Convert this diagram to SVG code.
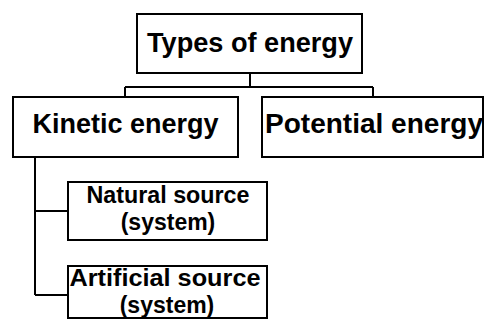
<svg xmlns="http://www.w3.org/2000/svg" width="485" height="320" viewBox="0 0 485 320">
<style>
.box{fill:#fff;stroke:#000;stroke-width:2}
.ln{fill:none;stroke:#000;stroke-width:2}
text{font-family:"Liberation Sans",Arial,sans-serif;font-weight:bold;fill:#000;text-anchor:middle}
.big{font-size:27px}
.sm{font-size:23px}
</style>
<rect width="485" height="320" fill="#fff"/>
<g id="connectors">
<path class="ln" d="M250,73 V87 M125,87 H373 M125,87 V97 M373,87 V97"/>
<path class="ln" d="M35,157 V295 M35,211 H68 M35,295 H68"/>
</g>
<g id="types">
<rect class="box" x="137" y="14" width="225" height="59"/>
<text class="big" x="250" y="52" textLength="206" lengthAdjust="spacingAndGlyphs">Types of energy</text>
</g>
<g id="kinetic">
<rect class="box" x="13" y="97" width="225" height="60"/>
<text class="big" x="125.5" y="133" textLength="186" lengthAdjust="spacingAndGlyphs">Kinetic energy</text>
</g>
<g id="potential">
<rect class="box" x="262" y="97" width="221" height="60"/>
<text class="big" x="374" y="133" textLength="218" lengthAdjust="spacingAndGlyphs">Potential energy</text>
</g>
<g id="natural">
<rect class="box" x="68" y="182" width="199" height="58"/>
<text class="sm" x="168" y="203" textLength="163" lengthAdjust="spacingAndGlyphs">Natural source</text>
<text class="sm" x="168" y="230">(system)</text>
</g>
<g id="artificial">
<rect class="box" x="68" y="266" width="199" height="52"/>
<text class="sm" x="165" y="286" textLength="191" lengthAdjust="spacingAndGlyphs">Artificial source</text>
<text class="sm" x="167" y="313">(system)</text>
</g>
</svg>
